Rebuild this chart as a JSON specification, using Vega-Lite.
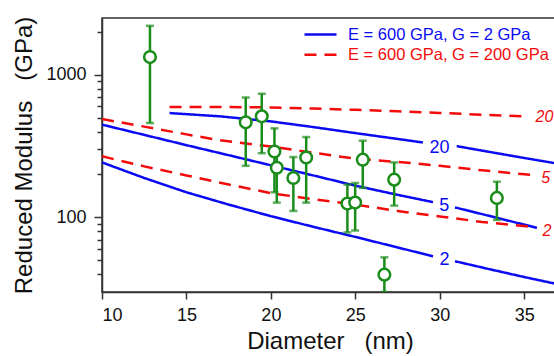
{
  "$schema": "https://vega.github.io/schema/vega-lite/v6.json",
  "width": 456,
  "height": 274,
  "autosize": "none",
  "padding": {"left": 102, "top": 18, "right": 0, "bottom": 65},
  "background": "white",
  "config": {
    "font": "Liberation Sans",
    "view": {"stroke": "#333333", "strokeWidth": 1.5},
    "axis": {
      "grid": false,
      "domainColor": "#333333",
      "domainWidth": 1.5,
      "tickColor": "#333333",
      "tickWidth": 1.5,
      "labelFont": "Liberation Sans",
      "labelFontSize": 18,
      "labelColor": "#111111",
      "titleFont": "Liberation Sans",
      "titleFontSize": 24,
      "titleFontWeight": "normal",
      "titleColor": "#111111"
    }
  },
  "datasets": {
    "curves": [
      {"G": "2 GPa", "part": "b2a", "d": 10, "m": 243},
      {"G": "2 GPa", "part": "b2a", "d": 12.5, "m": 189},
      {"G": "2 GPa", "part": "b2a", "d": 15, "m": 150},
      {"G": "2 GPa", "part": "b2a", "d": 17.5, "m": 123},
      {"G": "2 GPa", "part": "b2a", "d": 20, "m": 102},
      {"G": "2 GPa", "part": "b2a", "d": 22.5, "m": 86},
      {"G": "2 GPa", "part": "b2a", "d": 25, "m": 73},
      {"G": "2 GPa", "part": "b2a", "d": 27.5, "m": 61.6},
      {"G": "2 GPa", "part": "b2a", "d": 29.6, "m": 53.4},
      {"G": "2 GPa", "part": "b2b", "d": 30.9, "m": 49.3},
      {"G": "2 GPa", "part": "b2b", "d": 33, "m": 43.2},
      {"G": "2 GPa", "part": "b2b", "d": 35, "m": 38.2},
      {"G": "2 GPa", "part": "b2b", "d": 37, "m": 34},
      {"G": "2 GPa", "part": "b5a", "d": 10, "m": 447},
      {"G": "2 GPa", "part": "b5a", "d": 12.5, "m": 379},
      {"G": "2 GPa", "part": "b5a", "d": 15, "m": 321},
      {"G": "2 GPa", "part": "b5a", "d": 17.5, "m": 273},
      {"G": "2 GPa", "part": "b5a", "d": 20, "m": 232},
      {"G": "2 GPa", "part": "b5a", "d": 22.5, "m": 197},
      {"G": "2 GPa", "part": "b5a", "d": 25, "m": 167},
      {"G": "2 GPa", "part": "b5a", "d": 27.5, "m": 144},
      {"G": "2 GPa", "part": "b5a", "d": 29.6, "m": 128},
      {"G": "2 GPa", "part": "b5b", "d": 30.9, "m": 117.5},
      {"G": "2 GPa", "part": "b5b", "d": 33, "m": 102},
      {"G": "2 GPa", "part": "b5b", "d": 35, "m": 89},
      {"G": "2 GPa", "part": "b5b", "d": 35.75, "m": 84.4},
      {"G": "2 GPa", "part": "b20a", "d": 14, "m": 539},
      {"G": "2 GPa", "part": "b20a", "d": 17, "m": 511},
      {"G": "2 GPa", "part": "b20a", "d": 20, "m": 471},
      {"G": "2 GPa", "part": "b20a", "d": 22.5, "m": 430},
      {"G": "2 GPa", "part": "b20a", "d": 25, "m": 390},
      {"G": "2 GPa", "part": "b20a", "d": 27.5, "m": 355},
      {"G": "2 GPa", "part": "b20a", "d": 29, "m": 335},
      {"G": "2 GPa", "part": "b20b", "d": 31, "m": 316},
      {"G": "2 GPa", "part": "b20b", "d": 33, "m": 287},
      {"G": "2 GPa", "part": "b20b", "d": 35, "m": 261},
      {"G": "2 GPa", "part": "b20b", "d": 37, "m": 238},
      {"G": "200 GPa", "part": "r2", "d": 10, "m": 268},
      {"G": "200 GPa", "part": "r2", "d": 12.5, "m": 228},
      {"G": "200 GPa", "part": "r2", "d": 15, "m": 197},
      {"G": "200 GPa", "part": "r2", "d": 17.5, "m": 170},
      {"G": "200 GPa", "part": "r2", "d": 20, "m": 148},
      {"G": "200 GPa", "part": "r2", "d": 22.5, "m": 134},
      {"G": "200 GPa", "part": "r2", "d": 25, "m": 123},
      {"G": "200 GPa", "part": "r2", "d": 27.5, "m": 111},
      {"G": "200 GPa", "part": "r2", "d": 30, "m": 101.6},
      {"G": "200 GPa", "part": "r2", "d": 32.5, "m": 93},
      {"G": "200 GPa", "part": "r2", "d": 35.45, "m": 85.7},
      {"G": "200 GPa", "part": "r5", "d": 10, "m": 489},
      {"G": "200 GPa", "part": "r5", "d": 12.5, "m": 433},
      {"G": "200 GPa", "part": "r5", "d": 15, "m": 382},
      {"G": "200 GPa", "part": "r5", "d": 17, "m": 347},
      {"G": "200 GPa", "part": "r5", "d": 20, "m": 314},
      {"G": "200 GPa", "part": "r5", "d": 22.5, "m": 284},
      {"G": "200 GPa", "part": "r5", "d": 25, "m": 258},
      {"G": "200 GPa", "part": "r5", "d": 27.5, "m": 245},
      {"G": "200 GPa", "part": "r5", "d": 30, "m": 230},
      {"G": "200 GPa", "part": "r5", "d": 32.5, "m": 214},
      {"G": "200 GPa", "part": "r5", "d": 35.36, "m": 199},
      {"G": "200 GPa", "part": "r20", "d": 14, "m": 595},
      {"G": "200 GPa", "part": "r20", "d": 17, "m": 595},
      {"G": "200 GPa", "part": "r20", "d": 20, "m": 590},
      {"G": "200 GPa", "part": "r20", "d": 22.5, "m": 580},
      {"G": "200 GPa", "part": "r20", "d": 25, "m": 568},
      {"G": "200 GPa", "part": "r20", "d": 27.5, "m": 555},
      {"G": "200 GPa", "part": "r20", "d": 30, "m": 540},
      {"G": "200 GPa", "part": "r20", "d": 32.5, "m": 525},
      {"G": "200 GPa", "part": "r20", "d": 35.2, "m": 511}
    ],
    "blueLabels": [
      {"d": 29.98, "m": 306, "t": "20"},
      {"d": 30.26, "m": 119.4, "t": "5"},
      {"d": 30.28, "m": 50, "t": "2"}
    ],
    "redLabels": [
      {"d": 36.2, "m": 508, "t": "20"},
      {"d": 36.27, "m": 190, "t": "5"},
      {"d": 36.34, "m": 80, "t": "2"}
    ],
    "points": [
      {"d": 12.84, "m": 1330, "lo": 459, "hi": 2203},
      {"d": 18.51, "m": 464, "lo": 230, "hi": 693},
      {"d": 19.46, "m": 511, "lo": 282, "hi": 736},
      {"d": 20.21, "m": 290, "lo": 150, "hi": 421},
      {"d": 20.35, "m": 223, "lo": 127, "hi": 300},
      {"d": 21.33, "m": 189, "lo": 111, "hi": 265},
      {"d": 22.09, "m": 263, "lo": 127, "hi": 366},
      {"d": 24.53, "m": 125, "lo": 78.5, "hi": 170},
      {"d": 24.99, "m": 127, "lo": 81, "hi": 174},
      {"d": 25.44, "m": 254, "lo": 161, "hi": 345},
      {"d": 26.72, "m": 39.7, "lo": 30, "hi": 52.5},
      {"d": 27.3, "m": 184, "lo": 121, "hi": 243},
      {"d": 33.38, "m": 137, "lo": 96, "hi": 178}
    ]
  },
  "encoding": {
    "x": {
      "field": "d",
      "type": "quantitative",
      "scale": {"domain": [10, 37], "nice": false, "zero": false},
      "axis": {
        "values": [10, 15, 20, 25, 30, 35],
        "tickSize": 7,
        "labelPadding": 7,
        "title": "Diameter\u00a0\u00a0\u00a0(nm)",
        "titlePadding": 5
      }
    },
    "y": {
      "field": "m",
      "type": "quantitative",
      "scale": {"type": "log", "domain": [30, 2500], "nice": false},
      "axis": {
        "values": [40, 50, 60, 70, 80, 90, 100, 200, 300, 400, 500, 600, 700, 800, 900, 1000, 2000],
        "labelExpr": "datum.value == 100 ? '100' : datum.value == 1000 ? '1000' : ''",
        "tickSize": {"condition": {"test": "datum.value == 100 || datum.value == 1000", "value": 8}, "value": 5},
        "labelPadding": 8,
        "title": "Reduced Modulus\u00a0\u00a0\u00a0(GPa)",
        "titlePadding": 9
      }
    }
  },
  "layer": [
    {
      "data": {"name": "curves"},
      "mark": {"type": "line", "strokeWidth": 2.5, "clip": true},
      "encoding": {
        "detail": {"field": "part"},
        "color": {
          "field": "G",
          "type": "nominal",
          "scale": {"domain": ["2 GPa", "200 GPa"], "range": ["#0b0bf2", "#f20b0b"]},
          "legend": {
            "title": null,
            "orient": "none",
            "legendX": 209,
            "legendY": 7,
            "padding": 0,
            "symbolType": "M-2,0H2",
            "symbolSize": 256,
            "symbolStrokeWidth": 2.5,
            "labelFontSize": 16.5,
            "labelFont": "Liberation Sans",
            "labelOffset": 18,
            "rowPadding": 2.2,
            "labelLimit": 400,
            "labelExpr": "'E = 600 GPa, G = ' + datum.label",
            "encode": {
              "labels": {
                "update": {
                  "fill": {"signal": "datum.value == '2 GPa' ? '#0b0bf2' : '#f20b0b'"}
                }
              }
            }
          }
        },
        "strokeDash": {
          "field": "G",
          "type": "nominal",
          "scale": {"domain": ["2 GPa", "200 GPa"], "range": [[1, 0], [12, 8]]},
          "legend": null
        }
      }
    },
    {
      "data": {"name": "blueLabels"},
      "mark": {"type": "text", "fontSize": 18, "color": "#0b0bf2", "align": "center", "baseline": "middle", "font": "Liberation Sans"},
      "encoding": {"text": {"field": "t"}}
    },
    {
      "data": {"name": "redLabels"},
      "mark": {"type": "text", "fontSize": 16, "fontStyle": "italic", "color": "#f20b0b", "align": "center", "baseline": "middle", "font": "Liberation Sans"},
      "encoding": {"text": {"field": "t"}}
    },
    {
      "data": {"name": "points"},
      "mark": {"type": "rule", "color": "#1a8c1a", "strokeWidth": 2.5, "clip": true},
      "encoding": {"y": {"field": "lo", "type": "quantitative"}, "y2": {"field": "hi"}}
    },
    {
      "data": {"name": "points"},
      "mark": {"type": "tick", "orient": "horizontal", "color": "#1a8c1a", "size": 8, "thickness": 2.5, "clip": true},
      "encoding": {"y": {"field": "hi", "type": "quantitative"}}
    },
    {
      "data": {"name": "points"},
      "mark": {"type": "tick", "orient": "horizontal", "color": "#1a8c1a", "size": 8, "thickness": 2.5, "clip": true},
      "encoding": {"y": {"field": "lo", "type": "quantitative"}}
    },
    {
      "data": {"name": "points"},
      "mark": {"type": "point", "shape": "circle", "filled": false, "fill": "white", "fillOpacity": 1, "stroke": "#1a8c1a", "strokeWidth": 2.5, "opacity": 1, "size": 135}
    }
  ]
}
